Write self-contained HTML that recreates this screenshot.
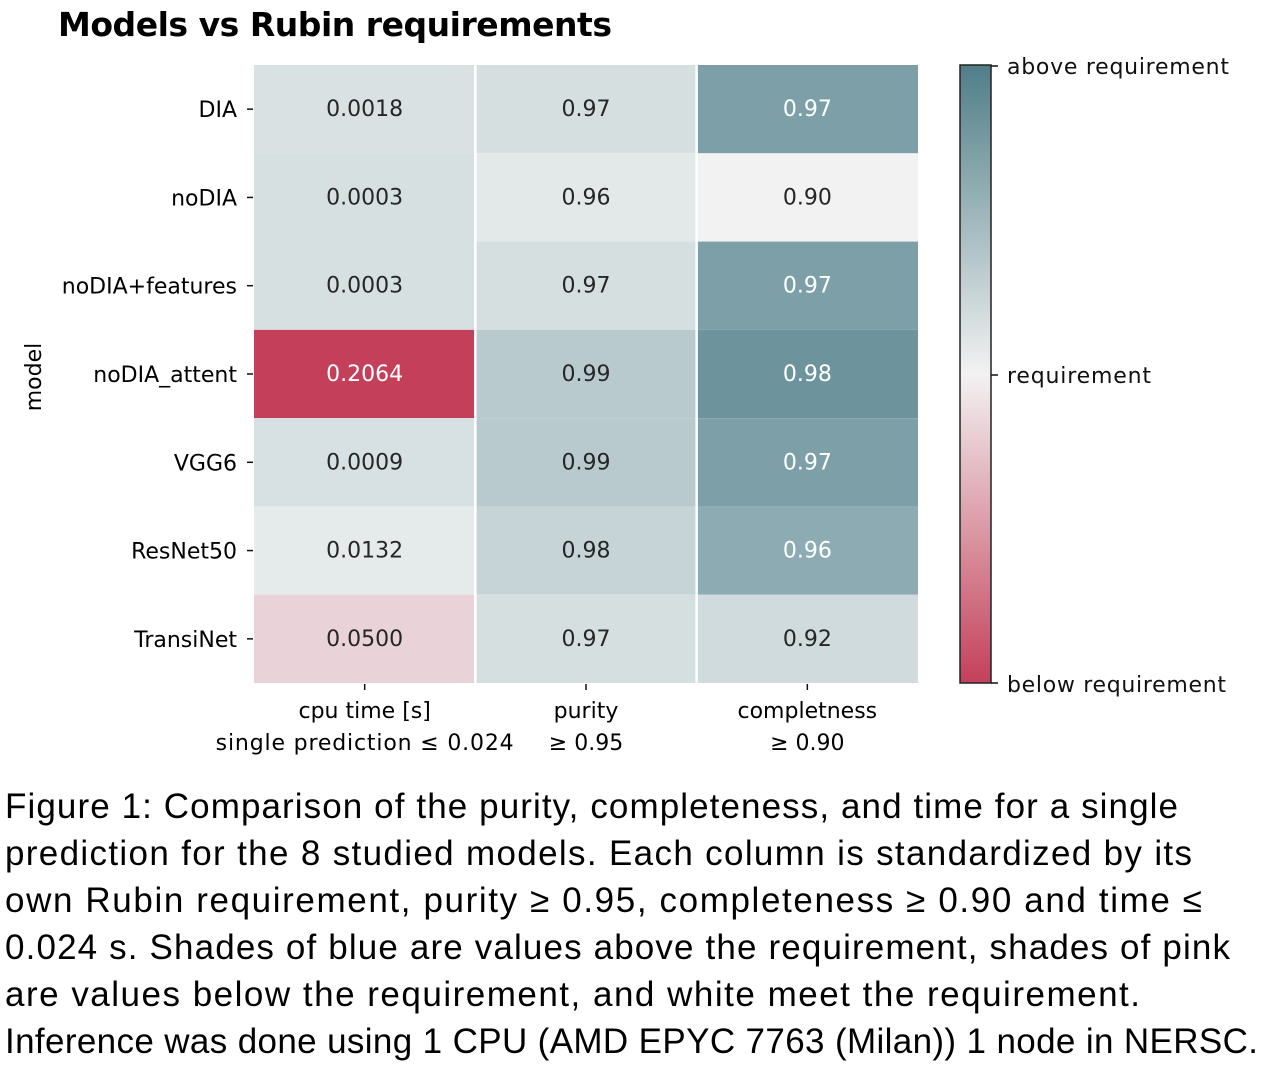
<!DOCTYPE html>
<html><head><meta charset="utf-8">
<style>
html,body{margin:0;padding:0;background:#fff;}
svg{display:block;}
</style></head>
<body>
<svg id="fig" width="1286" height="1080" xmlns="http://www.w3.org/2000/svg">
<defs>
<linearGradient id="cbgrad" x1="0" y1="0" x2="0" y2="1">
<stop offset="0" stop-color="#4f7e88"/>
<stop offset="0.5" stop-color="#f2f2f2"/>
<stop offset="1" stop-color="#c4405a"/>
</linearGradient>
</defs>
<text x="58" y="36" font-family="DejaVu Sans, sans-serif" font-weight="bold" font-size="33" textLength="554">Models vs Rubin requirements</text>
<g id="heat"></g>
<text transform="translate(41,377) rotate(-90)" text-anchor="middle" font-family="DejaVu Sans, sans-serif" font-size="22">model</text>
<rect x="960" y="65" width="31" height="618" fill="url(#cbgrad)" stroke="#222" stroke-width="1.5"/>
<g font-family="DejaVu Sans, sans-serif" font-size="22" fill="#111">
<line x1="991" y1="66" x2="998" y2="66" stroke="#111" stroke-width="1.5"/>
<text x="1007" y="74" textLength="222">above requirement</text>
<line x1="991" y1="375" x2="998" y2="375" stroke="#111" stroke-width="1.5"/>
<text x="1007" y="383" textLength="144">requirement</text>
<line x1="991" y1="683" x2="998" y2="683" stroke="#111" stroke-width="1.5"/>
<text x="1007" y="692" textLength="219">below requirement</text>
</g>
<g font-family="Liberation Sans, sans-serif" font-size="35" fill="#000">
<text x="5" y="818" textLength="1173">Figure 1: Comparison of the purity, completeness, and time for a single</text>
<text x="5" y="865" textLength="1187">prediction for the 8 studied models. Each column is standardized by its</text>
<text x="5" y="912" textLength="1197">own Rubin requirement, purity ≥ 0.95, completeness ≥ 0.90 and time ≤</text>
<text x="5" y="959" textLength="1225">0.024 s. Shades of blue are values above the requirement, shades of pink</text>
<text x="5" y="1006" textLength="1135">are values below the requirement, and white meet the requirement.</text>
<text x="5" y="1053" textLength="1253">Inference was done using 1 CPU (AMD EPYC 7763 (Milan)) 1 node in NERSC.</text>
</g>
</svg>
<script>
const models = ["DIA","noDIA","noDIA+features","noDIA_attent","VGG6","ResNet50","TransiNet"];
const metrics = ["cpu time [s]","purity","completness"];
const subLabels = ["single prediction \u2264 0.024","\u2265 0.95","\u2265 0.90"];
const requirements = [0.024, 0.95, 0.90];
const cpuTime = [0.0018,0.0003,0.0003,0.2064,0.0009,0.0132,0.0500];
const purity = [0.97,0.96,0.97,0.99,0.99,0.98,0.97];
const completeness = [0.97,0.90,0.97,0.98,0.97,0.96,0.92];
const cpuLabels = ["0.0018","0.0003","0.0003","0.2064","0.0009","0.0132","0.0500"];

const NS="http://www.w3.org/2000/svg";
const X0=254,X1=918,Y0=65,Y1=683;
const cw=(X1-X0)/metrics.length, rh=(Y1-Y0)/models.length;
const xPos=i=>X0+i*cw, yPos=j=>Y0+j*rh;
function mix(a,b,t){return a.map((v,i)=>Math.round(v+(b[i]-v)*t));}
function color(t){
  t=Math.max(-1,Math.min(1,t));
  const w=[242,242,242],blue=[79,126,136],pink=[196,64,90];
  let c;
  if(t>=0){
    c=mix(w,blue,t);
    // slight bluish tint for light cells
    const tint=Math.min(t,0.3)*0.25;
    c=[c[0]-Math.round(10*tint*4),c[1]-Math.round(2*tint*4),c[2]-Math.round(0*tint)];
  } else c=mix(w,pink,-t);
  return `rgb(${c[0]},${c[1]},${c[2]})`;
}
function score(col,v){
  if(col===0) return (requirements[0]-v)/0.15;
  if(col===1) return (v-requirements[1])/0.12;
  return (v-requirements[2])/0.1;
}
const g=document.getElementById('heat');
const cols=[cpuTime,purity,completeness];
cols.forEach((arr,c)=>{
  arr.forEach((v,r)=>{
    const t=score(c,v);
    const rect=document.createElementNS(NS,'rect');
    rect.setAttribute('x',xPos(c));rect.setAttribute('y',yPos(r));
    rect.setAttribute('width',cw);rect.setAttribute('height',rh);
    rect.setAttribute('fill',color(t));
    
    
    g.appendChild(rect);
    const tx=document.createElementNS(NS,'text');
    tx.setAttribute('x',xPos(c)+cw/2);tx.setAttribute('y',yPos(r)+rh/2+7);
    tx.setAttribute('text-anchor','middle');
    tx.setAttribute('font-family','DejaVu Sans, sans-serif');
    tx.setAttribute('font-size','22');
    tx.setAttribute('fill',Math.abs(t)>0.5?'#fff':'#262626');
    tx.textContent=c===0?cpuLabels[r]:v.toFixed(2);
    
    
    g.appendChild(tx);
  });
});
for(let c=1;c<metrics.length;c++){
  const l=document.createElementNS(NS,'line');
  l.setAttribute('x1',xPos(c));l.setAttribute('x2',xPos(c));
  l.setAttribute('y1',Y0);l.setAttribute('y2',Y1);
  l.setAttribute('stroke','#fff');l.setAttribute('stroke-width','2.5');
  
  
  g.appendChild(l);
}
models.forEach((m,r)=>{
  const y=yPos(r)+rh/2;
  const tk=document.createElementNS(NS,'line');
  tk.setAttribute('x1',X0-7);tk.setAttribute('x2',X0-1);tk.setAttribute('y1',y);tk.setAttribute('y2',y);
  tk.setAttribute('stroke','#111');tk.setAttribute('stroke-width','1.5');
  
  
  g.appendChild(tk);
  const t=document.createElementNS(NS,'text');
  t.setAttribute('x',X0-17);t.setAttribute('y',y+8);t.setAttribute('text-anchor','end');
  t.setAttribute('font-family','DejaVu Sans, sans-serif');t.setAttribute('font-size','22');
  t.textContent=m;
  
  
  g.appendChild(t);
});
metrics.forEach((m,c)=>{
  const x=xPos(c)+cw/2;
  const tk=document.createElementNS(NS,'line');
  tk.setAttribute('x1',x);tk.setAttribute('x2',x);tk.setAttribute('y1',Y1+1);tk.setAttribute('y2',Y1+7);
  tk.setAttribute('stroke','#111');tk.setAttribute('stroke-width','1.5');
  
  
  g.appendChild(tk);
  [m,subLabels[c]].forEach((s,k)=>{
    const t=document.createElementNS(NS,'text');
    t.setAttribute('x',x);t.setAttribute('y',718+k*32);t.setAttribute('text-anchor','middle');
    t.setAttribute('font-family','DejaVu Sans, sans-serif');t.setAttribute('font-size','22');
    if(c===0&&k===1) t.setAttribute('textLength','298');
    t.textContent=s;
    
    
    g.appendChild(t);
  });
});
</script>
</body></html>
